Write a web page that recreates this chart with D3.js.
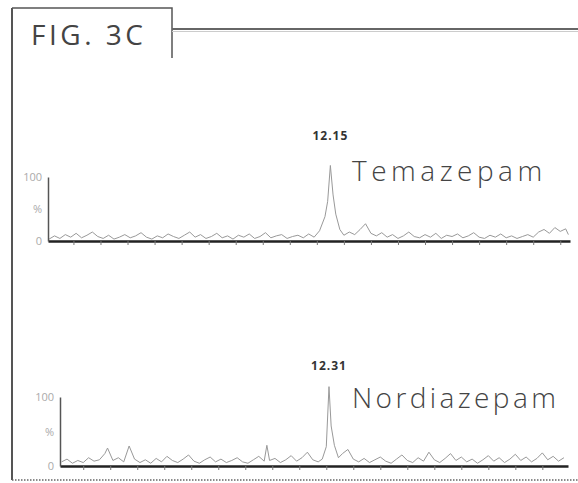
<!DOCTYPE html>
<meta charset="utf-8">
<style>
body { margin: 0; background: #fff; font-family: "Open Sans", sans-serif; }
svg { display: block; }
</style>
<body>
<div id="chart"></div>
<script src="https://d3js.org/d3.v7.min.js"></script>
<script>

const figLabel = "FIG. 3C";
const compounds = ["Temazepam", "Nordiazepam"];
const peakTimes = ["12.15", "12.31"];
const yTickLabels = ["100", "%", "0"];

// retention time (min) / relative intensity (%)
const topTime = [11.11,11.13,11.15,11.17,11.19,11.21,11.23,11.25,11.27,11.29,11.31,11.33,11.35,11.37,11.39,11.41,11.43,11.45,11.47,11.49,11.51,11.53,11.55,11.57,11.59,11.61,11.63,11.65,11.67,11.69,11.71,11.73,11.75,11.77,11.79,11.81,11.83,11.85,11.87,11.89,11.91,11.93,11.95,11.97,11.99,12.01,12.03,12.05,12.07,12.09,12.11,12.13,12.14,12.15,12.16,12.17,12.185,12.2,12.22,12.24,12.26,12.28,12.30,12.32,12.34,12.36,12.38,12.40,12.42,12.44,12.46,12.48,12.50,12.52,12.54,12.56,12.58,12.60,12.62,12.64,12.66,12.68,12.70,12.72,12.74,12.76,12.78,12.80,12.82,12.84,12.86,12.88,12.90,12.92,12.94,12.96,12.98,13.00,13.02,13.03];
const topIntensity = [3,8,4,10,6,12,5,9,14,7,4,9,3,6,10,5,8,13,6,3,8,5,11,7,4,9,14,6,10,4,7,12,5,8,3,9,6,11,4,7,13,5,8,10,4,7,9,5,11,6,16,38,62,118,72,42,18,9,14,10,18,27,12,8,13,6,10,4,8,14,7,5,10,6,12,4,9,7,11,5,8,13,6,4,9,6,11,5,8,4,7,10,6,14,18,12,21,15,19,10];

const botTime = [11.32,11.34,11.36,11.38,11.40,11.42,11.44,11.46,11.48,11.49,11.51,11.53,11.55,11.57,11.59,11.61,11.63,11.65,11.67,11.69,11.71,11.73,11.75,11.77,11.79,11.81,11.83,11.85,11.87,11.89,11.91,11.93,11.95,11.97,11.99,12.01,12.03,12.05,12.07,12.08,12.09,12.11,12.13,12.15,12.17,12.19,12.21,12.23,12.25,12.27,12.285,12.30,12.31,12.318,12.33,12.345,12.36,12.38,12.40,12.42,12.44,12.46,12.48,12.50,12.52,12.54,12.56,12.58,12.60,12.62,12.64,12.66,12.68,12.70,12.72,12.74,12.76,12.78,12.80,12.82,12.84,12.86,12.88,12.90,12.92,12.94,12.96,12.98,13.00,13.02,13.04,13.06,13.08,13.10,13.12,13.14,13.16,13.18];
const botIntensity = [6,10,4,8,5,12,7,9,18,26,8,12,6,29,10,5,9,4,11,6,14,8,5,10,16,7,4,9,13,6,10,5,8,12,6,4,9,14,7,30,8,11,5,9,15,7,12,20,9,6,10,28,115,58,30,12,18,24,10,6,11,5,9,13,7,4,10,16,8,5,12,7,20,9,5,11,18,8,13,6,10,4,9,15,7,12,5,10,17,8,13,6,11,19,9,14,7,12];

const width = 578, height = 483;

const svg = d3.select("#chart").append("svg")
  .attr("width", width)
  .attr("height", height);

// frame: left + bottom border, label box (open at bottom), top rule
svg.append("line")
  .attr("x1", 12).attr("y1", 8).attr("x2", 12).attr("y2", 480)
  .attr("stroke", "#555").attr("stroke-width", 2);
svg.append("line")
  .attr("x1", 12).attr("y1", 480).attr("x2", width).attr("y2", 480)
  .attr("stroke", "#666").attr("stroke-width", 1.5).attr("stroke-dasharray", "1.5,1.5");
svg.append("path")
  .attr("d", "M12,8H172V58")
  .attr("fill", "none").attr("stroke", "#555").attr("stroke-width", 1.5);
svg.append("line")
  .attr("x1", 172).attr("y1", 29).attr("x2", width).attr("y2", 29)
  .attr("stroke", "#666").attr("stroke-width", 2);
svg.append("line")
  .attr("x1", 172).attr("y1", 31.5).attr("x2", width).attr("y2", 31.5)
  .attr("stroke", "#ccc").attr("stroke-width", 1);

svg.append("text")
  .attr("x", 31).attr("y", 45)
  .attr("font-size", 28)
  .attr("letter-spacing", 3.5)
  .attr("fill", "#444")
  .text(figLabel);

const panels = [
  {time: topTime, val: topIntensity, x0: 48, x1: 570, yTop: 177, yBase: 241,
   dom: [11.106, 13.036], label: compounds[0], rt: peakTimes[0], rtY: 140, nameY: 181, ls: 4.5},
  {time: botTime, val: botIntensity, x0: 60, x1: 568, yTop: 397, yBase: 466,
   dom: [11.314, 13.195], label: compounds[1], rt: peakTimes[1], rtY: 370, nameY: 408, ls: 3.4}
];

panels.forEach(p => {
  const x = d3.scaleLinear().domain(p.dom).range([p.x0, p.x1]);
  const y = d3.scaleLinear().domain([0, 100]).range([p.yBase, p.yTop]);
  const g = svg.append("g");

  // trace
  const pts = p.time.map((t, i) => [t, p.val[i]]);
  g.append("path")
    .datum(pts)
    .attr("fill", "none")
    .attr("stroke", "#999")
    .attr("stroke-width", 1)
    .attr("d", d3.line().x(d => x(d[0])).y(d => y(d[1])));

  // x axis: heavy baseline with small down ticks
  g.append("g")
    .attr("transform", `translate(0,${p.yBase})`)
    .call(d3.axisBottom(x).ticks(20).tickSize(4).tickFormat("").tickSizeOuter(0))
    .call(a => a.select(".domain").attr("stroke", "#222").attr("stroke-width", 2.5))
    .call(a => a.selectAll(".tick line").attr("stroke", "#777"));

  // y axis
  g.append("g")
    .attr("transform", `translate(${p.x0},0)`)
    .call(d3.axisLeft(y).tickValues([]).tickSizeOuter(0))
    .call(a => a.select(".domain").attr("stroke", "#555").attr("stroke-width", 1.5));

  // y labels: 100, %, 0
  const yl = [100, 50, 0];
  g.selectAll(".ylab")
    .data(yTickLabels)
    .join("text")
      .attr("x", p.x0 - 6)
      .attr("y", (d, i) => y(yl[i]) + 4)
      .attr("text-anchor", "end")
      .attr("font-size", 11)
      .attr("fill", "#aaa")
      .text(d => d);

  // peak annotation
  g.append("text")
    .attr("x", x(+p.rt))
    .attr("y", p.rtY)
    .attr("text-anchor", "middle")
    .attr("font-size", 12)
    .attr("font-weight", "bold")
    .attr("letter-spacing", 1)
    .attr("fill", "#333")
    .text(p.rt);

  g.append("text")
    .attr("x", 352)
    .attr("y", p.nameY)
    .attr("font-size", 28)
    .attr("font-weight", 300)
    .attr("letter-spacing", p.ls)
    .attr("fill", "#444")
    .text(p.label);
});

</script>
</body>
